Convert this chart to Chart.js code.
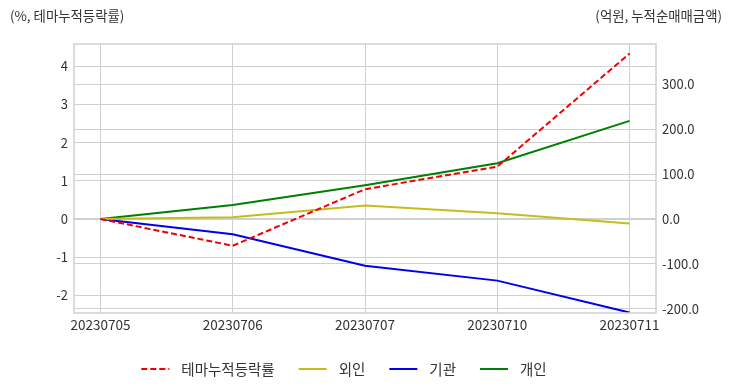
<!DOCTYPE html>
<html>
<head>
<meta charset="utf-8">
<script src="https://cdn.jsdelivr.net/npm/chart.js@4/dist/chart.umd.min.js"></script>
<style>
html,body{margin:0;padding:0;background:#fff;}
#wrap{width:732px;height:392px;position:relative;}
</style>
</head>
<body>
<div id="wrap"><canvas id="c" width="732" height="392"></canvas></div>
<script>
const dates = ['20230705','20230706','20230707','20230710','20230711'];
const themeRate = [0, -0.70, 0.78, 1.37, 4.33];
const foreign = [0, 4, 30, 13, -10];
const institution = [0, -34, -104, -137, -208];
const individual = [0, 31, 75, 124, 218];
const leftTicks = [-2, -1, 0, 1, 2, 3, 4];
const rightTicks = [-200, -100, 0, 100, 200, 300];
const leftTitle = '(%, 테마누적등락률)';
const rightTitle = '(억원, 누적순매매금액)';

const FONT = "'Noto Sans CJK KR', 'Noto Sans', sans-serif";
const TXT = '#333333';
const GRID = '#d0d0d0';

const pts = arr => arr.map((v, i) => ({x: i, y: v}));

const extras = {
  id: 'extras',
  afterDraw(chart) {
    const ctx = chart.ctx;
    const a = chart.chartArea;
    ctx.save();
    // frame
    ctx.strokeStyle = GRID;
    ctx.lineWidth = 1.5;
    ctx.strokeRect(a.left, a.top, a.right - a.left, a.bottom - a.top);
    // titles
    ctx.fillStyle = TXT;
    ctx.font = '13.4px ' + FONT;
    ctx.textBaseline = 'middle';
    ctx.textAlign = 'left';
    ctx.fillText(leftTitle, 10, 16);
    ctx.textAlign = 'right';
    ctx.fillText(rightTitle, 722, 16);
    // legend
    const ds = chart.data.datasets;
    ctx.font = '14.5px ' + FONT;
    const sample = 28, gapT = 12, gapI = 24;
    let total = 0;
    const widths = ds.map(d => ctx.measureText(d.label).width);
    widths.forEach((w, i) => { total += sample + gapT + w + (i < ds.length - 1 ? gapI : 0); });
    let x = 344 - total / 2;
    const y = 369;
    ds.forEach((d, i) => {
      ctx.strokeStyle = d.borderColor;
      ctx.lineWidth = d.borderWidth;
      ctx.setLineDash(d.borderDash || []);
      ctx.beginPath();
      ctx.moveTo(x, y);
      ctx.lineTo(x + sample, y);
      ctx.stroke();
      ctx.setLineDash([]);
      x += sample + gapT;
      ctx.fillStyle = TXT;
      ctx.textAlign = 'left';
      ctx.fillText(d.label, x, y);
      x += widths[i] + gapI;
    });
    ctx.restore();
  }
};

new Chart(document.getElementById('c'), {
  type: 'line',
  data: {
    datasets: [
      {label: '테마누적등락률', data: pts(themeRate), yAxisID: 'y', borderColor: '#ee0000', borderWidth: 2, borderDash: [6, 3], pointRadius: 0, tension: 0},
      {label: '외인', data: pts(foreign), yAxisID: 'y2', borderColor: '#c4bd1a', borderWidth: 2, pointRadius: 0, tension: 0},
      {label: '기관', data: pts(institution), yAxisID: 'y2', borderColor: '#0000ee', borderWidth: 2, pointRadius: 0, tension: 0},
      {label: '개인', data: pts(individual), yAxisID: 'y2', borderColor: '#007f00', borderWidth: 2, pointRadius: 0, tension: 0}
    ]
  },
  options: {
    responsive: false,
    animation: false,
    layout: {padding: {top: 44, bottom: 0, left: 0, right: 0}},
    plugins: {legend: {display: false}, tooltip: {enabled: false}},
    scales: {
      x: {
        type: 'linear', min: -0.2, max: 4.2,
        afterBuildTicks: s => { s.ticks = dates.map((d, i) => ({value: i})); },
        afterFit: s => { s.height = 79; },
        grid: {color: GRID, lineWidth: 1, drawTicks: false},
        border: {display: false},
        ticks: {padding: 4, color: TXT, font: {family: FONT, size: 13.5}, maxRotation: 0, callback: v => dates[v]}
      },
      y: {
        position: 'left', min: -2.46, max: 4.58,
        afterBuildTicks: s => { s.ticks = leftTicks.map(v => ({value: v})); },
        afterFit: s => { s.width = 74; },
        grid: {color: GRID, lineWidth: 1, drawTicks: false},
        border: {display: false},
        ticks: {padding: 6, color: TXT, font: {family: FONT, size: 13}, callback: v => String(v)}
      },
      y2: {
        position: 'right', min: -209, max: 389,
        afterBuildTicks: s => { s.ticks = rightTicks.map(v => ({value: v})); },
        afterFit: s => { s.width = 76; },
        grid: {color: GRID, lineWidth: 1, drawTicks: false},
        border: {display: false},
        ticks: {padding: 6, color: TXT, font: {family: FONT, size: 13}, callback: v => Number(v).toFixed(1)}
      }
    }
  },
  plugins: [extras]
});
</script>
</body>
</html>
